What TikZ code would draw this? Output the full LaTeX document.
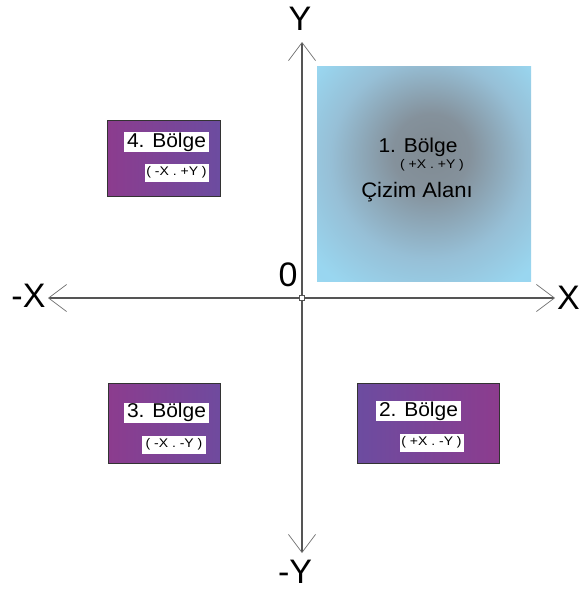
\documentclass[tikz,border=0pt]{standalone}
\usepackage{fontspec}
\setmainfont{Liberation Sans}
\newfontfamily\widesans[FakeStretch=1.12]{Liberation Sans}
\newfontfamily\titlesans[FakeStretch=1.05]{Liberation Sans}
\usetikzlibrary{arrows.meta}
\definecolor{axisgray}{RGB}{85,85,85}
\definecolor{barbgray}{RGB}{110,110,110}
\definecolor{purpA}{RGB}{140,60,142}
\definecolor{purpB}{RGB}{108,76,160}
\pgfdeclareradialshading{quadone}{\pgfpoint{2bp}{6bp}}{%
  rgb(0bp)=(0.50,0.54,0.57);
  rgb(9bp)=(0.52,0.57,0.61);
  rgb(23bp)=(0.59,0.75,0.84);
  rgb(34bp)=(0.60,0.84,0.94);
  rgb(50bp)=(0.61,0.85,0.95)}
\tikzset{
  axisline/.style={draw=axisgray, line width=1.1pt,
    -{Straight Barb[length=18pt,width=27pt,line width=0.7pt,color=barbgray]}},
  axislabel/.style={inner sep=0pt, anchor=base, font=\fontsize{34}{34}\selectfont},
  quadbox/.style={draw=black!80, line width=0.7pt},
  titlebox/.style={fill=white, inner xsep=3pt, inner ysep=1pt,
    text height=14pt, text depth=4pt, font=\titlesans\fontsize{20}{20}\selectfont},
  subbox/.style={fill=white, inner sep=0pt, minimum width=64pt, minimum height=18pt,
    font=\widesans\fontsize{12.5}{12.5}\selectfont},
  bigtext/.style={inner sep=0pt, anchor=base, font=\titlesans\fontsize{20}{20}\selectfont},
  smalltext/.style={inner sep=0pt, anchor=base, font=\widesans\fontsize{12.5}{12.5}\selectfont}
}
\begin{document}
\begin{tikzpicture}[x=1pt,y=-1pt]
\useasboundingbox (0,0) rectangle (580,589);
% quadrant 1 drawing area
\path[shading=quadone] (317,66) rectangle (531,281);
\node[bigtext] (q1a) at (418,152) {1. Bölge};
\node[smalltext] (q1b) at (432,168) {( +X . +Y )};
\node[bigtext, font=\titlesans\fontsize{21}{21}\selectfont] (q1c) at (417,197) {Çizim Alanı};
% quadrant boxes
\draw[quadbox, left color=purpA, right color=purpB] (107,120) rectangle (220,196);
\draw[quadbox, left color=purpA, right color=purpB!90!purpA] (108,383) rectangle (220,463);
\draw[quadbox, left color=purpB, right color=purpA] (357,383) rectangle (499,463);
\node[titlebox] (q4a) at (166.5,142) {4. Bölge};
\node[subbox] (q4b) at (176.5,172.5) {( -X . +Y )};
\node[titlebox] (q3a) at (166.5,412.5) {3. Bölge};
\node[subbox] (q3b) at (174,444.5) {( -X . -Y )};
\node[titlebox] (q2a) at (418.5,411) {2. Bölge};
\node[subbox] (q2b) at (431.5,442.5) {( +X . -Y )};
% axes
\coordinate (O) at (302,298);
\coordinate (top) at (302,42);
\coordinate (bot) at (302,553);
\coordinate (lft) at (48,298);
\coordinate (rgt) at (555,298);
\draw[axisline] (O) -- (top);
\draw[axisline] (O) -- (bot);
\draw[axisline] (O) -- (lft);
\draw[axisline] (O) -- (rgt);
\draw[axisgray, line width=0.8pt, fill=white] (299.5,295.5) rectangle (304.5,300.5);
% labels
\node[axislabel] (ly) at (300,30) {Y};
\node[axislabel] (lmy) at (295,583) {-Y};
\node[axislabel] (lmx) at (28.5,307) {-X};
\node[axislabel] (lx) at (568.5,309) {X};
\node[axislabel] (l0) at (288,286) {0};
\end{tikzpicture}
\end{document}
